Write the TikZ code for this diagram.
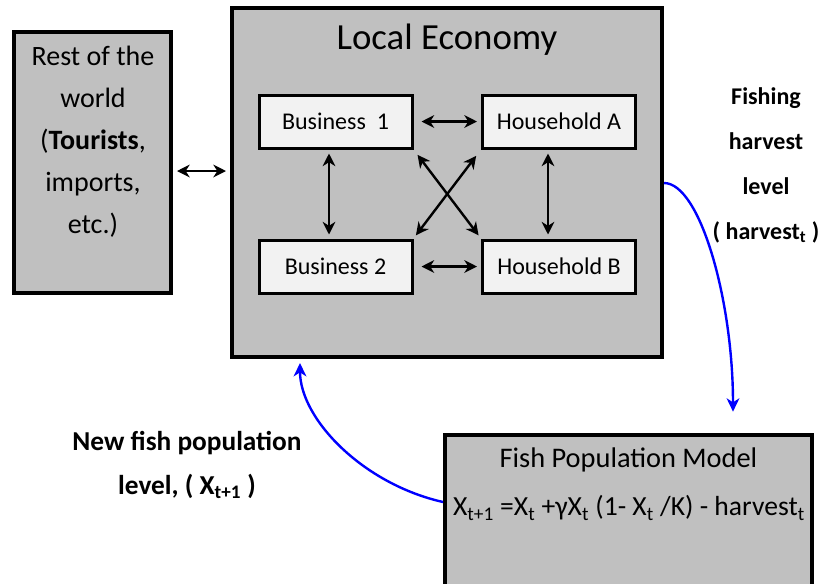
\documentclass[tikz,border=0pt]{standalone}
\usepackage{fontspec}
\setmainfont{Carlito}
\usetikzlibrary{arrows.meta,positioning,calc}
\definecolor{boxgray}{RGB}{192,192,192}
\definecolor{agentfill}{RGB}{242,242,242}
\definecolor{flowblue}{RGB}{0,0,255}

\begin{document}
\begin{tikzpicture}[
    x=0.75pt, y=-0.75pt,
    outerbox/.style={rectangle, draw, line width=3pt, fill=boxgray, inner sep=0pt},
    agentbox/.style={rectangle, draw, line width=2.25pt, fill=agentfill, minimum width=114.75pt, minimum height=39.75pt, font=\fontsize{18}{22}\selectfont},
    biarrow/.style={<->, >={Stealth[length=9.5pt, width=9.5pt, inset=3pt]}, line width=1.8pt, shorten <=3pt, shorten >=3pt},
    flow/.style={->, >={Stealth[length=10pt, width=9.5pt, inset=3pt]}, flowblue, line width=1.8pt},
    boldlabel/.style={align=center, font=\bfseries\fontsize{18}{33.75}\selectfont}
]
\useasboundingbox (0,0) rectangle (822,583);
\clip (0,0) rectangle (822,583);

% Outer boxes
\node[outerbox, minimum width=117.75pt, minimum height=195.75pt] (rest) at (92.5,162.5) {};
\node[align=center, font=\fontsize{21}{31.5}\selectfont] (resttext) at (93,141.5) {Rest of the\\world\\(\textbf{Tourists},\\imports,\\etc.)};
\node[outerbox, minimum width=322.5pt, minimum height=261.75pt] (econ) at (447,182.5) {};
\node[font=\fontsize{27.6}{32}\selectfont] (econtitle) at (447,40) {Local Economy};
\node[outerbox, minimum width=275.25pt, minimum height=123.75pt] (fishmodel) at (628.5,517.5) {};
\node[font=\fontsize{21.3}{25}\selectfont] (fishtitle) at (628.5,460) {Fish Population Model};
\node[font=\fontsize{20.7}{25}\selectfont] (fisheq) at (629,508) {X\textsubscript{t+1} =X\textsubscript{t} +γX\textsubscript{t} (1- X\textsubscript{t} /K) - harvest\textsubscript{t}};

% Agents in the local economy
\node[agentbox] (bus1) at (335.5,121.5) {Business\ \ 1};
\node[agentbox] (houseA) at (559,121.5) {Household A};
\node[agentbox] (bus2) at (335.5,266.5) {Business 2};
\node[agentbox] (houseB) at (559,266.5) {Household B};

% Labels
\node[boldlabel] (harvestlabel) at (766,165) {Fishing\\harvest\\level\\( harvest\textsubscript{t} )};
\node[boldlabel, font=\bfseries\fontsize{20.5}{33}\selectfont] (poplabel) at (187,465) {New fish population\\level, ( X\textsubscript{t+1} )};

% Trade arrows
\draw[biarrow] (rest.east |- 0,171) -- (econ.west |- 0,171);
\draw[biarrow, shorten <=6pt] (bus1) -- (houseA);
\draw[biarrow, shorten <=6pt] (bus2) -- (houseB);
\draw[biarrow] (bus1.south -| 329,0) -- (bus2.north -| 329,0);
\draw[biarrow] (houseA.south -| 548,0) -- (houseB.north -| 548,0);
\draw[biarrow, shorten <=5pt, shorten >=3pt] (bus1.south east) -- (houseB.north west);
\draw[biarrow, shorten <=6pt, shorten >=3pt] (houseA.south west) -- (bus2.north east);

% Fish flows
\draw[flow, shorten >=16pt] (econ.east |- 0,183) .. controls +(36,0) and +(0,-133) .. (fishmodel.north -| 733,0);
\draw[flow, shorten >=3pt] (fishmodel.west |- 0,502) .. controls +(-80,-18) and +(0,60) .. (econ.south -| 300,0);

\end{tikzpicture}
\end{document}
